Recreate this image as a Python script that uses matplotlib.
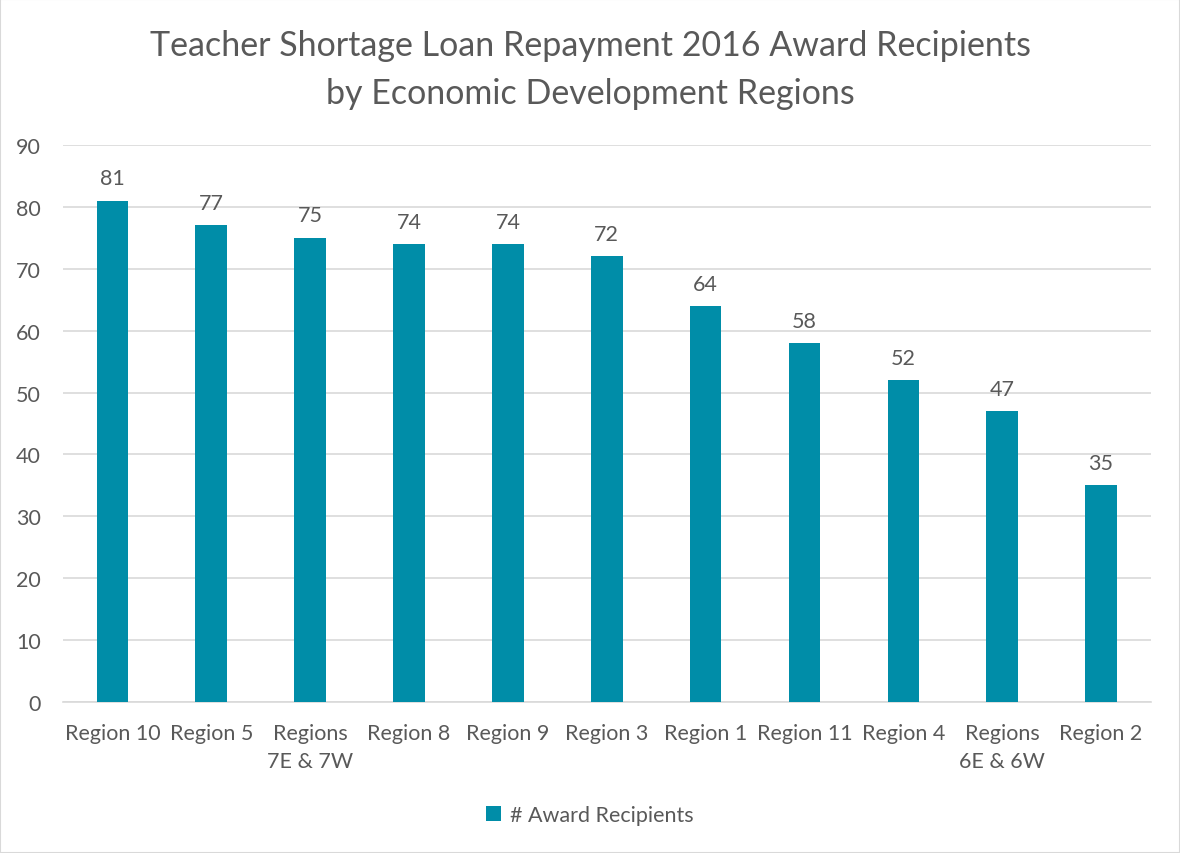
import matplotlib
matplotlib.use("Agg")
import matplotlib.pyplot as plt
from matplotlib.patches import Rectangle

regions = ["Region 10", "Region 5", "Regions\n7E & 7W", "Region 8", "Region 9", "Region 3",
           "Region 1", "Region 11", "Region 4", "Regions\n6E & 6W", "Region 2"]
recipients = [81, 77, 75, 74, 74, 72, 64, 58, 52, 47, 35]
yticks = list(range(0, 100, 10))

BAR = "#008DA8"
TXT = "#595959"
GRID = "#D9D9D9"

plt.rcParams["font.family"] = ["Lato", "DejaVu Sans"]

fig = plt.figure(figsize=(11.8, 8.54), dpi=100)
fig.patches.append(Rectangle((0, 0), 1, 1, transform=fig.transFigure, fill=False,
                             edgecolor="#D9D9D9", linewidth=1.5))
ax = fig.add_axes([0.0534, 0.1768, 0.9216, 0.6522])

x = list(range(len(regions)))
bars = ax.bar(x, recipients, width=0.32, color=BAR, label="# Award Recipients", zorder=3)
for xi, v in zip(x, recipients):
    ax.text(xi, v + 2.0, str(v), ha="center", va="bottom", fontsize=15.5, color=TXT)

ax.set_xlim(-0.5, len(regions) - 0.5)
ax.set_ylim(0, 90)
ax.set_yticks(yticks)
ax.set_xticks(x)
ax.set_xticklabels(regions, fontsize=15.5, color=TXT, linespacing=1.5)
ax.tick_params(axis="y", labelsize=15.5, labelcolor=TXT, length=0, pad=16)
ax.tick_params(axis="x", length=0, pad=15)
ax.grid(axis="y", color=GRID, linewidth=1.2, zorder=0)
for s in ["top", "right", "left"]:
    ax.spines[s].set_visible(False)
ax.spines["bottom"].set_color(GRID)
ax.spines["bottom"].set_linewidth(1.2)

fig.text(0.5, 0.918, "Teacher Shortage Loan Repayment 2016 Award Recipients\nby Economic Development Regions",
         ha="center", va="center", fontsize=24.5, color=TXT, linespacing=1.6)

fig.legend(handles=[bars], loc="center", bbox_to_anchor=(0.5, 0.044), frameon=False,
           fontsize=15.5, labelcolor=TXT, handlelength=0.7, handleheight=0.7, handletextpad=0.4)

fig.savefig("out.png", dpi=100)
